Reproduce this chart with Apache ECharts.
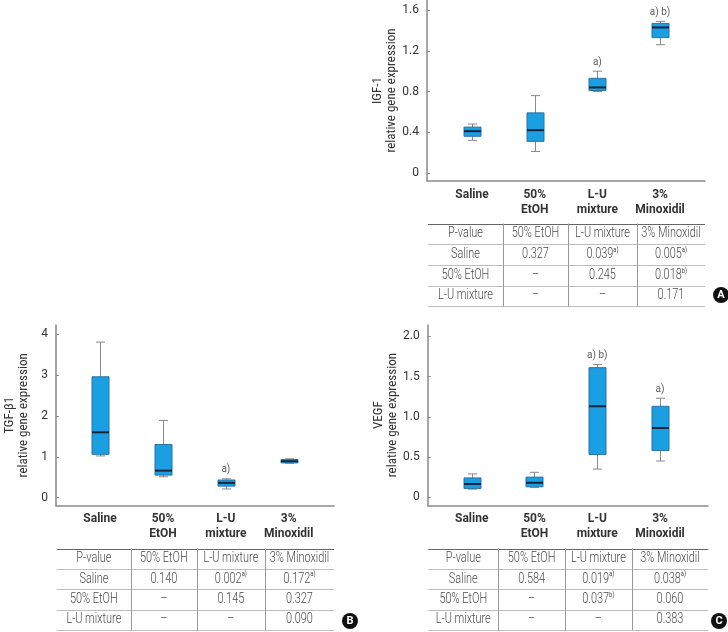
<!DOCTYPE html>
<html><head><meta charset="utf-8">
<script src="https://cdn.jsdelivr.net/npm/echarts@6/dist/echarts.min.js"></script>
<style>html,body{margin:0;padding:0;background:#fff}#c{width:728px;height:632px}</style>
</head><body><div id="c"></div>
<script>
// ---------- data ----------
const categories = ['Saline', '50%\nEtOH', 'L-U\nmixture', '3%\nMinoxidil'];

// [min, Q1, median, Q3, max]
const igfBoxes  = [[0.32, 0.36, 0.41, 0.45, 0.48], [0.21, 0.31, 0.42, 0.59, 0.76], [0.80, 0.81, 0.84, 0.93, 1.00], [1.26, 1.33, 1.43, 1.47, 1.49]];
const tgfBoxes  = [[1.02, 1.06, 1.60, 2.96, 3.81], [0.51, 0.55, 0.66, 1.30, 1.89], [0.21, 0.28, 0.36, 0.43, 0.46], [0.84, 0.85, 0.89, 0.93, 0.95]];
const vegfBoxes = [[0.10, 0.11, 0.165, 0.24, 0.29], [0.12, 0.13, 0.18, 0.25, 0.31], [0.35, 0.53, 1.13, 1.61, 1.65], [0.45, 0.58, 0.86, 1.13, 1.23]];

const igfMarks  = ['', '', 'a)', 'a) b)'];
const tgfMarks  = ['', '', 'a)', ''];
const vegfMarks = ['', '', 'a) b)', 'a)'];

const igfTicks  = [0, 0.4, 0.8, 1.2, 1.6];
const tgfTicks  = [0, 1, 2, 3, 4];
const vegfTicks = [0, 0.5, 1.0, 1.5, 2.0];

const tableHeader = ['P-value', '50% EtOH', 'L-U mixture', '3% Minoxidil'];
const tableRowNames = ['Saline', '50% EtOH', 'L-U mixture'];
const igfP  = [['0.327', '0.039^a)', '0.005^a)'], ['–', '0.245', '0.018^b)'], ['–', '–', '0.171']];
const tgfP  = [['0.140', '0.002^a)', '0.172^a)'], ['–', '0.145', '0.327'], ['–', '–', '0.090']];
const vegfP = [['0.584', '0.019^a)', '0.038^a)'], ['–', '0.037^b)', '0.060'], ['–', '–', '0.383']];

// ---------- layout ----------
const NARROW = '"Liberation Sans Narrow", "Roboto Condensed", "Arial Narrow", Roboto, sans-serif';
const panels = [
  { name: 'IGF-1\nrelative gene expression', boxes: igfBoxes, marks: igfMarks, ticks: igfTicks, dec: 1,
    min: -0.08, max: 1.70,
    axisGrid: { left: 427, right: 23, top: 0, bottom: 451 },
    dataGrid: { left: 440.7, right: 36.6, top: 0, bottom: 451 },
    table: { cols: [428, 503, 568, 637, 705], top: 223.5, rowH: 20.7 }, p: igfP,
    badge: { x: 721, y: 295, t: 'A' } },
  { name: 'TGF-β1\nrelative gene expression', boxes: tgfBoxes, marks: tgfMarks, ticks: tgfTicks, dec: 0,
    min: -0.2, max: 4.23,
    axisGrid: { left: 56, right: 394, top: 325, bottom: 126.3 },
    dataGrid: { left: 68.6, right: 407.8, top: 325, bottom: 126.3 },
    table: { cols: [56.7, 131, 196.7, 265, 334], top: 548.5, rowH: 20.4 }, p: tgfP,
    badge: { x: 350, y: 621, t: 'B' } },
  { name: 'VEGF\nrelative gene expression', boxes: vegfBoxes, marks: vegfMarks, ticks: vegfTicks, dec: 1,
    min: -0.1, max: 2.14,
    axisGrid: { left: 427.7, right: 20, top: 325, bottom: 126.7 },
    dataGrid: { left: 440.3, right: 36.6, top: 325, bottom: 126.7 },
    table: { cols: [428.3, 498.3, 565, 631.7, 708.3], top: 548.5, rowH: 20.4 }, p: vegfP,
    badge: { x: 719, y: 621, t: 'C' } }
];

function renderBox(params, api) {
  const x = api.value(0);
  const lo = api.coord([x, api.value(1)]);
  const q1 = api.coord([x, api.value(2)]);
  const md = api.coord([x, api.value(3)]);
  const q3 = api.coord([x, api.value(4)]);
  const hi = api.coord([x, api.value(5)]);
  const cx = Math.round(lo[0]) + 0.5, bw = 17, cw = 9;
  const ws = { stroke: '#8a8a8a', lineWidth: 1 };
  return { type: 'group', children: [
    { type: 'line', shape: { x1: cx, y1: hi[1], x2: cx, y2: q3[1] }, style: ws },
    { type: 'line', shape: { x1: cx, y1: q1[1], x2: cx, y2: lo[1] }, style: ws },
    { type: 'line', shape: { x1: cx - cw / 2, y1: hi[1], x2: cx + cw / 2, y2: hi[1] }, style: ws },
    { type: 'line', shape: { x1: cx - cw / 2, y1: lo[1], x2: cx + cw / 2, y2: lo[1] }, style: ws },
    { type: 'rect', shape: { x: cx - bw / 2, y: q3[1], width: bw, height: q1[1] - q3[1] },
      style: { fill: '#1a9fe3', stroke: '#2a73a6', lineWidth: 1 } },
    { type: 'line', shape: { x1: cx - bw / 2, y1: md[1], x2: cx + bw / 2, y2: md[1] },
      style: { stroke: '#152638', lineWidth: 2 } }
  ]};
}

const grid = [], xAxis = [], yAxis = [], series = [], graphic = [];
panels.forEach((p, k) => {
  const ga = 2 * k, gd = 2 * k + 1;
  grid.push(p.axisGrid, p.dataGrid);
  xAxis.push({ type: 'value', gridIndex: ga, min: 0, max: 1,
    axisLine: { show: true, onZero: false, lineStyle: { color: '#8a8a8a', width: 1.5 } },
    axisTick: { show: false }, axisLabel: { show: false }, splitLine: { show: false } });
  xAxis.push({ type: 'category', gridIndex: gd, data: categories, boundaryGap: true,
    axisLine: { show: false }, axisTick: { show: false }, splitLine: { show: false },
    axisLabel: { interval: 0, margin: 6, fontSize: 12, lineHeight: 15, color: '#333',
      fontFamily: 'Roboto, sans-serif', fontWeight: 'bold' } });
  yAxis.push({ type: 'value', gridIndex: ga, min: p.min, max: p.max,
    name: p.name, nameLocation: 'middle', nameGap: 26, nameRotate: 90,
    nameTextStyle: { fontSize: 13, lineHeight: 13.5, color: '#333', fontFamily: NARROW },
    axisLine: { show: true, onZero: false, lineStyle: { color: '#8a8a8a', width: 1.5 } },
    axisTick: { show: true, inside: true, length: 3, customValues: p.ticks, lineStyle: { color: '#8a8a8a' } },
    axisLabel: { customValues: p.ticks, margin: 8, fontSize: 12, color: '#333',
      fontFamily: 'Roboto, sans-serif', formatter: v => (Number(v) === 0 ? '0' : Number(v).toFixed(p.dec)) },
    splitLine: { show: false } });
  yAxis.push({ type: 'value', gridIndex: gd, min: p.min, max: p.max, show: false, splitLine: { show: false } });

  series.push({ type: 'custom', xAxisIndex: gd, yAxisIndex: gd, renderItem: renderBox,
    encode: { x: 0, y: [1, 2, 3, 4, 5] }, clip: false,
    data: p.boxes.map((b, i) => [i].concat(b)) });
  series.push({ type: 'scatter', xAxisIndex: gd, yAxisIndex: gd, symbolSize: 0, silent: true,
    data: p.boxes.map((b, i) => ({ value: [i, b[4]], name: p.marks[i] })).filter(d => d.name),
    label: { show: true, position: 'top', distance: 4, formatter: d => d.name,
      fontSize: 10, color: '#333', fontFamily: 'Roboto, sans-serif' } });

  // table
  const t = p.table, cols = t.cols, nRows = 4;
  const bottom = t.top + nRows * t.rowH;
  for (let r = 0; r <= nRows; r++) {
    const y = Math.round(t.top + r * t.rowH) + 0.5;
    graphic.push({ type: 'line', shape: { x1: cols[0], y1: y, x2: cols[4], y2: y },
      style: { stroke: r === 0 ? '#666' : '#bdbdbd', lineWidth: 1 } });
  }
  for (let c = 1; c < 4; c++) {
    const x = Math.round(cols[c]) + 0.5;
    graphic.push({ type: 'line', shape: { x1: x, y1: t.top, x2: x, y2: bottom },
      style: { stroke: '#9a9a9a', lineWidth: 1 } });
  }
  const rows = [tableHeader].concat(tableRowNames.map((n, i) => [n].concat(p.p[i])));
  rows.forEach((row, r) => {
    row.forEach((cell, c) => {
      const cx = (cols[c] + cols[c + 1]) / 2, cy = t.top + (r + 0.5) * t.rowH;
      let text;
      if (cell.indexOf('^') >= 0) {
        const parts = cell.split('^');
        text = '{v|' + parts[0] + '}{s|' + parts[1] + '}';
      } else {
        text = '{v|' + cell + '}';
      }
      graphic.push({ type: 'text', x: cx, y: cy, scaleX: 0.78, scaleY: 1, style: { text: text, align: 'center', verticalAlign: 'middle',
        rich: { v: { fontSize: 14, lineHeight: 17, fill: '#4a4a4a', fontFamily: 'Roboto, sans-serif', fontWeight: 300 },
                s: { fontSize: 7.5, lineHeight: 8, verticalAlign: 'top', fill: '#4a4a4a', fontFamily: 'Roboto, sans-serif' } } } });
    });
  });
  // badge
  graphic.push({ type: 'circle', shape: { cx: p.badge.x, cy: p.badge.y, r: 8 }, style: { fill: '#111' } });
  graphic.push({ type: 'text', x: p.badge.x, y: p.badge.y + 0.5, style: { text: p.badge.t, align: 'center', verticalAlign: 'middle',
    fill: '#fff', fontSize: 11, fontWeight: 'bold', fontFamily: 'Roboto, sans-serif' } });
});

const chart = echarts.init(document.getElementById('c'), null, { renderer: 'canvas' });
chart.setOption({ animation: false, backgroundColor: '#fff', grid, xAxis, yAxis, series, graphic });
</script></body></html>
